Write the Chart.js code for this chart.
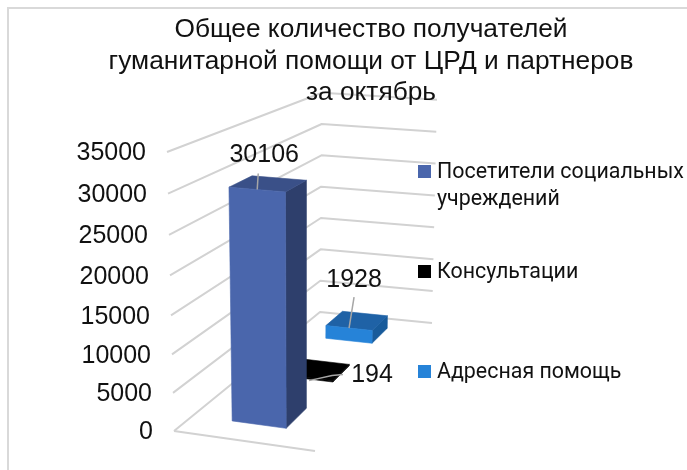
<!DOCTYPE html>
<html lang="ru">
<head>
<meta charset="utf-8">
<style>
    html, body { margin: 0; padding: 0; background: #fff; }
    canvas { display: block; }
</style>
<script src="https://cdn.jsdelivr.net/npm/chart.js@4/dist/chart.umd.min.js"></script>
</head>
<body>
<canvas id="chart" width="687" height="470"></canvas>
<script>
const titleLines = ['Общее количество получателей', 'гуманитарной помощи от ЦРД и партнеров', 'за октябрь'];
const categories = ['Октябрь'];
const seriesNames = ['Посетители социальных учреждений', 'Консультации', 'Адресная помощь'];
const visitors = [30106];
const consultations = [194];
const targeted = [1928];

const axisMax = 35000;
const axisStep = 5000;

// how the flat chart is tilted: floor corners and how far the walls lean
const floor = {
    frontLeft: [174, 431],
    frontRight: [315, 451],
    backLeft: [320, 312],
    backRight: [432, 323]
};
const heightFactor = { frontLeft: 1, frontRight: 1.03, backLeft: 0.786, backRight: 0.8 };
const lean = { frontLeft: -7, frontRight: 1, backLeft: 2, backRight: 5 };
const depthBands = [[0.13, 0.29], [0.5, 0.63], [0.81, 0.93]];

const faceColors = [
    { front: '#4a66ac', side: '#2e3f6c', top: '#3a5088' },
    { front: '#000000', side: '#000000', top: '#000000' },
    { front: '#2683d8', side: '#185b9b', top: '#1f62a6' }
];

// offsets from the middle of the bar's front top edge
const valueLabels = [
    { dx: 7, dy: -34, leader: [[1, -16], [0, 0]] },
    { dx: 64, dy: -3, leader: [[35, -3], [24, -2], [1, 3]] },
    { dx: 5, dy: -48, leader: [[5, -31], [0, 0]] }
];

const mix = (corners, a, t) => {
    const lerp = (p, q, k) => p + (q - p) * k;
    return lerp(
        lerp(corners.frontLeft, corners.frontRight, a),
        lerp(corners.backLeft, corners.backRight, a),
        t
    );
};

const project = (chart, a, t, height) => {
    const scale = chart.scales.y;
    const full = scale.getPixelForValue(0) - scale.getPixelForValue(axisMax);
    const share = height / full;
    const floorX = mix({
        frontLeft: floor.frontLeft[0], frontRight: floor.frontRight[0],
        backLeft: floor.backLeft[0], backRight: floor.backRight[0]
    }, a, t);
    const floorY = mix({
        frontLeft: floor.frontLeft[1], frontRight: floor.frontRight[1],
        backLeft: floor.backLeft[1], backRight: floor.backRight[1]
    }, a, t);
    const sag = 4 * Math.sin(Math.PI * share) * (1 - t);
    return [
        floorX + mix(lean, a, t) * share,
        floorY - height * mix(heightFactor, a, t) + sag
    ];
};

const fillFace = (ctx, color, points) => {
    ctx.fillStyle = color;
    ctx.strokeStyle = color;
    ctx.lineWidth = 0.6;
    ctx.beginPath();
    points.forEach(([x, y], i) => (i ? ctx.lineTo(x, y) : ctx.moveTo(x, y)));
    ctx.closePath();
    ctx.fill();
    ctx.stroke();
};

const barGeometry = (chart, index) => {
    const bar = chart.getDatasetMeta(index).data[0];
    const span = floor.frontRight[0] - floor.frontLeft[0];
    const a0 = (bar.x - bar.width / 2 - floor.frontLeft[0]) / span;
    const a1 = (bar.x + bar.width / 2 - floor.frontLeft[0]) / span;
    const [t0, t1] = depthBands[index];
    return { a0, a1, t0, t1, height: bar.base - bar.y };
};

const scene = {
    id: 'scene',
    beforeDraw(chart) {
        // frame of the picture, only top and left are visible
        const { ctx, width, height } = chart;
        ctx.save();
        ctx.strokeStyle = '#d9d9d9';
        ctx.lineWidth = 2;
        ctx.beginPath();
        ctx.moveTo(8, height);
        ctx.lineTo(8, 8);
        ctx.lineTo(width, 8);
        ctx.stroke();
        ctx.restore();

        // tick labels follow the leaning front edge of the wall
        const scale = chart.scales.y;
        if (!scale.leanApplied) {
            scale.getLabelItems().forEach((item, i) => {
                const value = scale.ticks[i].value;
                const h = scale.getPixelForValue(0) - scale.getPixelForValue(value);
                const [x, y] = project(chart, 0, 0, h);
                item.options.translation[0] = x - 21;
                item.options.translation[1] = y + 1.5;
            });
            scale.leanApplied = true;
        }
    },
    beforeDatasetsDraw(chart) {
        const { ctx } = chart;
        const scale = chart.scales.y;
        ctx.save();
        ctx.strokeStyle = '#d2d2d2';
        ctx.lineWidth = 2;
        ctx.lineJoin = 'round';
        scale.ticks.forEach((tick) => {
            const h = scale.getPixelForValue(0) - scale.getPixelForValue(tick.value);
            ctx.beginPath();
            ctx.moveTo(...project(chart, 0, 0, h));
            ctx.lineTo(...project(chart, 0, 1, h));
            ctx.lineTo(...project(chart, 1, 1, h));
            ctx.stroke();
        });
        ctx.beginPath();
        ctx.moveTo(...project(chart, 0, 0, 0));
        ctx.lineTo(...project(chart, 1, 0, 0));
        ctx.stroke();
        ctx.restore();
    },
    beforeDatasetDraw(chart, args) {
        const { ctx } = chart;
        const { a0, a1, t0, t1, height } = barGeometry(chart, args.index);
        const colors = faceColors[args.index];
        ctx.save();
        fillFace(ctx, colors.side, [
            project(chart, a1, t0, 0), project(chart, a1, t1, 0),
            project(chart, a1, t1, height), project(chart, a1, t0, height)
        ]);
        fillFace(ctx, colors.top, [
            project(chart, a0, t0, height), project(chart, a1, t0, height),
            project(chart, a1, t1, height), project(chart, a0, t1, height)
        ]);
        fillFace(ctx, colors.front, [
            project(chart, a0, t0, 0), project(chart, a1, t0, 0),
            project(chart, a1, t0, height), project(chart, a0, t0, height)
        ]);
        ctx.restore();
        return false;
    },
    afterDraw(chart) {
        const { ctx } = chart;
        ctx.save();

        // value labels with leader lines
        chart.data.datasets.forEach((dataset, index) => {
            const { a0, a1, t0, height } = barGeometry(chart, index);
            const [x, y] = project(chart, (a0 + a1) / 2, t0, height);
            const label = valueLabels[index];
            ctx.strokeStyle = '#a6a6a6';
            ctx.lineWidth = 1.5;
            ctx.beginPath();
            label.leader.forEach(([dx, dy], i) => {
                if (i) {
                    ctx.lineTo(x + dx, y + dy);
                } else {
                    ctx.moveTo(x + dx, y + dy);
                }
            });
            ctx.stroke();
            ctx.fillStyle = '#111';
            ctx.font = '25px "Liberation Sans"';
            ctx.textAlign = 'center';
            ctx.textBaseline = 'middle';
            ctx.fillText(String(dataset.data[0]), x + label.dx, y + label.dy);
        });

        // legend, spaced out along the side of the chart
        ctx.textAlign = 'left';
        ctx.textBaseline = 'middle';
        ctx.font = '21.4px Roboto';
        chart.data.datasets.forEach((dataset, index) => {
            const rowY = 172 + index * 100;
            ctx.fillStyle = faceColors[index].front;
            ctx.fillRect(418, rowY - 7, 13, 13);
            ctx.fillStyle = '#111';
            const words = dataset.label.split(' ');
            const textY = rowY + 1;
            if (ctx.measureText(dataset.label).width > 250) {
                ctx.fillText(words.slice(0, -1).join(' '), 437, textY);
                ctx.fillText(words[words.length - 1], 437, textY + 27);
            } else {
                ctx.fillText(dataset.label, 437, textY);
            }
        });

        // title goes over the top wall line
        ctx.textAlign = 'center';
        ctx.font = '26.3px "Liberation Sans"';
        titleLines.forEach((line, i) => {
            ctx.fillText(line, 371, 30 + i * 31.5);
        });
        ctx.restore();
    }
};

new Chart(document.getElementById('chart'), {
    type: 'bar',
    data: {
        labels: categories,
        datasets: [
            { label: seriesNames[0], data: visitors, backgroundColor: faceColors[0].front },
            { label: seriesNames[1], data: consultations, backgroundColor: faceColors[1].front },
            { label: seriesNames[2], data: targeted, backgroundColor: faceColors[2].front }
        ]
    },
    options: {
        responsive: false,
        animation: false,
        events: [],
        grouped: false,
        barPercentage: 0.38,
        categoryPercentage: 1,
        layout: { padding: { top: 152, bottom: 39, right: 372 } },
        plugins: { legend: { display: false }, title: { display: false }, tooltip: { enabled: false } },
        scales: {
            x: { display: false },
            y: {
                min: 0,
                max: axisMax,
                afterFit(scale) {
                    scale.width = 169;
                },
                grid: { display: false },
                border: { display: false },
                ticks: {
                    stepSize: axisStep,
                    color: '#111',
                    padding: 17,
                    font: { family: '"Liberation Sans"', size: 25 },
                    callback: (value) => String(value)
                }
            }
        }
    },
    plugins: [scene]
});
</script>
</body>
</html>
